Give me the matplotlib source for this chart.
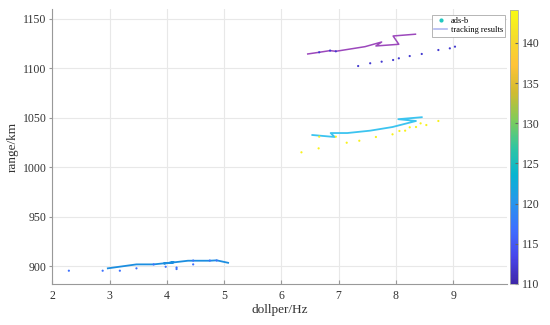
import numpy as np
import matplotlib
matplotlib.use("Agg")
import matplotlib.pyplot as plt
from matplotlib.colors import LinearSegmentedColormap, Normalize
from matplotlib.lines import Line2D

# =============================================================================
# data
# =============================================================================
# ads-b points (doppler Hz, range km), coloured by a third value
adsb_top_x = [7.34, 7.55, 7.75, 7.95, 8.05, 8.24, 8.45, 8.74, 8.94, 9.03,
              6.66, 6.85, 6.95]
adsb_top_y = [1102.4, 1105.2, 1106.8, 1108.5, 1110.2, 1112.5, 1114.6, 1118.6,
              1120.3, 1122.0, 1116.3, 1118.0, 1117.3]
adsb_mid_x = [6.35, 6.65, 7.14, 7.36, 7.65, 7.94, 8.06, 8.16, 8.24, 8.35,
              8.43, 8.53, 8.74, 6.66, 6.95]
adsb_mid_y = [1015.1, 1019.1, 1024.8, 1026.8, 1030.6, 1033.3, 1036.7, 1037.0,
              1040.4, 1040.7, 1044.4, 1042.7, 1046.8, 1030.9, 1030.9]
adsb_bot_x = [2.29, 2.88, 3.18, 3.47, 3.77, 3.98, 4.17, 4.17, 4.46, 4.46,
              4.75, 4.87]
adsb_bot_y = [895.3, 895.3, 895.3, 897.7, 901.7, 899.3, 898.5, 897.0, 901.7,
              905.6, 905.6, 905.6]
adsb_top_c = 112
adsb_mid_c = 143
adsb_bot_c = 117

# tracking results
trk_top_x = [6.46, 6.66, 6.85, 6.95, 7.46, 7.75, 7.65, 8.05, 7.95, 8.34]
trk_top_y = [1114.6, 1116.3, 1118.0, 1117.3, 1122.0, 1126.7, 1122.7, 1124.4,
             1132.8, 1134.6]
trk_mid_x = [6.54, 6.93, 6.86, 7.15, 7.55, 7.94, 8.35, 8.04, 8.45]
trk_mid_y = [1032.6, 1030.6, 1034.6, 1034.6, 1037.0, 1040.7, 1046.8, 1048.6,
             1050.6]
trk_bot_x = [2.97, 3.47, 3.77, 4.12, 3.95, 4.37, 4.75, 4.87, 5.07]
trk_bot_y = [897.7, 901.7, 901.7, 903.8, 902.6, 905.4, 905.4, 905.8, 903.3]

cbar_ticks = [110, 115, 120, 125, 130, 135, 140]

# parula-like colormap
parula = LinearSegmentedColormap.from_list("parula", [
    (0.0, (0.2422, 0.1504, 0.6603)),
    (0.1, (0.2803, 0.2782, 0.9221)),
    (0.2, (0.2440, 0.4358, 0.9988)),
    (0.3, (0.1540, 0.5902, 0.9218)),
    (0.4, (0.0297, 0.7082, 0.8163)),
    (0.5, (0.1938, 0.7758, 0.6251)),
    (0.6, (0.5044, 0.7993, 0.3480)),
    (0.7, (0.8185, 0.7327, 0.1884)),
    (0.8, (0.9970, 0.7659, 0.2199)),
    (0.9, (0.9610, 0.8640, 0.1700)),
    (1.0, (0.9769, 0.9839, 0.0805)),
])
norm = Normalize(110, 144.1)

plt.rcParams["font.family"] = ["Liberation Serif", "DejaVu Serif"]

fig = plt.figure(figsize=(5.5, 3.25), dpi=100)
ax = fig.add_axes([0.095, 0.126, 0.827, 0.846])

ax.grid(True, color="#e8e8e8", lw=0.8)
ax.set_axisbelow(True)

for xx, yy, cc in [(adsb_top_x, adsb_top_y, adsb_top_c),
                   (adsb_mid_x, adsb_mid_y, adsb_mid_c),
                   (adsb_bot_x, adsb_bot_y, adsb_bot_c)]:
    ax.scatter(xx, yy, c=[cc] * len(xx), cmap=parula, norm=norm, s=2.5,
               linewidths=0, zorder=3)

ax.plot(trk_top_x, trk_top_y, color="#9c48bc", lw=1.1, zorder=2)
ax.plot(trk_mid_x, trk_mid_y, color="#3cc4f0", lw=1.3, zorder=2)
ax.plot(trk_bot_x, trk_bot_y, color="#1c8ee0", lw=1.3, zorder=2)

ax.set_xlim(2, 9.94)
ax.set_ylim(881.8, 1160)
ax.set_xticks(range(2, 10))
ax.set_yticks(range(900, 1151, 50))
ax.tick_params(axis="x", direction="in", length=3, color="#999999",
               labelsize=8.5, pad=4, labelcolor="#333333")
ax.tick_params(axis="y", direction="out", length=2, color="#999999",
               labelsize=8.5, pad=2, labelcolor="#333333")
for side in ["top", "right"]:
    ax.spines[side].set_visible(False)
for side in ["left", "bottom"]:
    ax.spines[side].set_color("#999999")
    ax.spines[side].set_linewidth(0.8)

ax.set_xlabel("dollper/Hz", fontsize=9.5, color="#333333", labelpad=2)
ax.set_ylabel("range/km", fontsize=9.5, color="#333333", labelpad=3)

handles = [
    Line2D([], [], ls="none", marker="o", ms=2, color="#20c8c0"),
    Line2D([], [], color="#b0b8f0", lw=1.2),
]
leg = ax.legend(handles, ["ads-b", "tracking results"], loc="upper right",
                bbox_to_anchor=(1.0, 0.985), fontsize=6, fancybox=False,
                framealpha=1, edgecolor="#aaaaaa", handlelength=1.6,
                handletextpad=0.4, borderpad=0.3, labelspacing=0.1,
                borderaxespad=0.2)
leg.get_frame().set_linewidth(0.6)

cax = fig.add_axes([510 / 550, 1 - 284 / 325, 8 / 550, 274 / 325])
sm = plt.cm.ScalarMappable(cmap=parula, norm=norm)
cb = fig.colorbar(sm, cax=cax, ticks=cbar_ticks)
cb.outline.set_edgecolor("#aaaaaa")
cb.outline.set_linewidth(0.6)
cb.ax.tick_params(direction="in", length=2, color="#666666", labelsize=8.5,
                  pad=3, labelcolor="#333333")

fig.savefig("out.png", dpi=100)
